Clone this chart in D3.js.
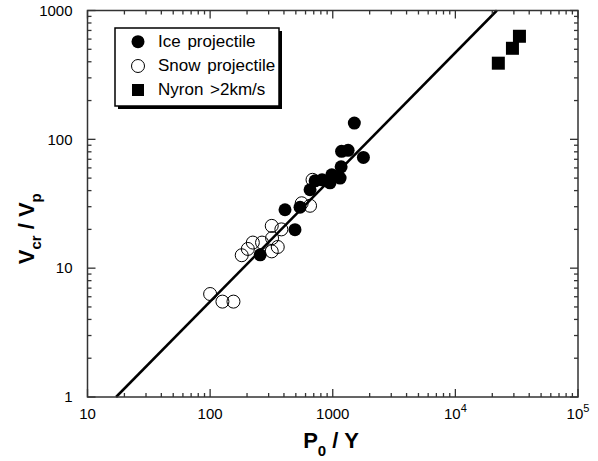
<!DOCTYPE html>
<html>
<head>
<meta charset="utf-8">
<script src="https://cdn.jsdelivr.net/npm/d3@7"></script>
<style>
  html, body { margin: 0; padding: 0; background: #fff; }
  svg { display: block; font-family: "Liberation Sans", Arial, Helvetica, sans-serif; }
</style>
</head>
<body>
<svg id="chart" width="598" height="461"></svg>
<script>
// Ice projectile impacts: [P0/Y, Vcr/Vp]
const iceX = [256, 408, 541, 492, 653, 718, 818, 982, 1148, 950, 1170, 1180, 1334, 1778, 1500];
const iceY = [12.7, 28.4, 29.7, 19.9, 40.6, 47.6, 48.5, 53.1, 50.0, 46.0, 61.2, 80.7, 82.2, 72.4, 133.7];

// Snow projectile impacts
const snowX = [100, 126, 155, 181, 203, 223, 265, 318, 318, 320, 356, 381, 558, 653, 684];
const snowY = [6.3, 5.5, 5.5, 12.6, 14.1, 15.8, 15.8, 13.5, 21.3, 17.1, 14.6, 20.0, 31.9, 30.5, 48.5];

// Nylon projectiles faster than 2 km/s
const nyronX = [22400, 29200, 33300];
const nyronY = [390, 509, 631];

// Power-law fit, drawn between its two end points
const fitX = [17.1, 21800];
const fitY = [1, 1000];

// Axis decades and their labels (base, exponent)
const xTickValues = [10, 100, 1000, 1e4, 1e5];
const xTickLabels = [["10", ""], ["100", ""], ["1000", ""], ["10", "4"], ["10", "5"]];
const yTickValues = [1, 10, 100, 1000];
const yTickLabels = ["1", "10", "100", "1000"];

const legendLabels = ["Ice projectile", "Snow projectile", "Nyron >2km/s"];

const svg = d3.select("#chart");
const pL = 87.5, pR = 578, pT = 10.5, pB = 397;

const x = d3.scaleLog().domain([10, 1e5]).range([pL, pR]);
const y = d3.scaleLog().domain([1, 1000]).range([pB, pT]);

// Fit line
const fit = fitX.map((v, i) => [v, fitY[i]]);
svg.append("path")
  .datum(fit)
  .attr("d", d3.line().x(d => x(d[0])).y(d => y(d[1])))
  .attr("fill", "none")
  .attr("stroke", "#000")
  .attr("stroke-width", 2.5);

// Frame with inward ticks on all four sides
const axisColor = "#333";
const isMajor = v => Math.abs(Math.log10(v) - Math.round(Math.log10(v))) < 1e-9;
const xMinor = x.ticks();
const yMinor = y.ticks();

function drawTicks(g, values, scale, orient) {
  values.forEach(v => {
    const len = isMajor(v) ? 8 : 4;
    const p = scale(v);
    let x1, y1, x2, y2;
    if (orient === "bottom") { x1 = x2 = p; y1 = pB; y2 = pB - len; }
    if (orient === "top") { x1 = x2 = p; y1 = pT; y2 = pT + len; }
    if (orient === "left") { y1 = y2 = p; x1 = pL; x2 = pL + len; }
    if (orient === "right") { y1 = y2 = p; x1 = pR; x2 = pR - len; }
    g.append("line").attr("x1", x1).attr("y1", y1).attr("x2", x2).attr("y2", y2)
      .attr("stroke", axisColor).attr("stroke-width", 1.3);
  });
}
const frame = svg.append("g");
frame.append("rect")
  .attr("x", pL).attr("y", pT)
  .attr("width", pR - pL).attr("height", pB - pT)
  .attr("fill", "none").attr("stroke", axisColor).attr("stroke-width", 1.5);
drawTicks(frame, xMinor, x, "bottom");
drawTicks(frame, xMinor, x, "top");
drawTicks(frame, yMinor, y, "left");
drawTicks(frame, yMinor, y, "right");

// X tick labels
const xl = svg.append("g").attr("font-size", 15).attr("fill", "#000");
xTickValues.forEach((v, i) => {
  const t = xl.append("text")
    .attr("x", x(v)).attr("y", pB + 22)
    .attr("text-anchor", "middle");
  t.append("tspan").text(xTickLabels[i][0]);
  if (xTickLabels[i][1]) {
    t.append("tspan").attr("dy", -7).attr("font-size", 11).text(xTickLabels[i][1]);
  }
});

// Y tick labels
const yl = svg.append("g").attr("font-size", 15).attr("fill", "#000");
yTickValues.forEach((v, i) => {
  yl.append("text")
    .attr("x", pL - 15).attr("y", y(v))
    .attr("dy", "0.35em")
    .attr("text-anchor", "end")
    .text(yTickLabels[i]);
});

// Axis titles
const xt = svg.append("text")
  .attr("x", 331).attr("y", 448)
  .attr("text-anchor", "middle")
  .attr("font-size", 22).attr("font-weight", "bold");
xt.append("tspan").text("P");
xt.append("tspan").attr("dy", 8).attr("font-size", 15).text("0");
xt.append("tspan").attr("dy", -8).text(" / Y");

const yt = svg.append("text")
  .attr("transform", `translate(34,${(pT + pB) / 2 + 25}) rotate(-90)`)
  .attr("text-anchor", "middle")
  .attr("font-size", 22).attr("font-weight", "bold");
yt.append("tspan").text("V");
yt.append("tspan").attr("dy", 7).attr("font-size", 15).text("cr");
yt.append("tspan").attr("dy", -7).text(" / V");
yt.append("tspan").attr("dy", 7).attr("font-size", 15).text("p");

// Data marks
const r = 6.5;
svg.append("g").selectAll("circle")
  .data(snowX.map((v, i) => [v, snowY[i]]))
  .join("circle")
  .attr("cx", d => x(d[0])).attr("cy", d => y(d[1])).attr("r", r)
  .attr("fill", "none").attr("stroke", "#000").attr("stroke-width", 1);

svg.append("g").selectAll("circle")
  .data(iceX.map((v, i) => [v, iceY[i]]))
  .join("circle")
  .attr("cx", d => x(d[0])).attr("cy", d => y(d[1])).attr("r", r)
  .attr("fill", "#000");

const sq = 13;
svg.append("g").selectAll("rect")
  .data(nyronX.map((v, i) => [v, nyronY[i]]))
  .join("rect")
  .attr("x", d => x(d[0]) - sq / 2).attr("y", d => y(d[1]) - sq / 2)
  .attr("width", sq).attr("height", sq)
  .attr("fill", "#000");

// Legend with drop shadow
const lg = svg.append("g");
const lx = 115, ly = 28, lw = 164, lh = 78;
lg.append("rect").attr("x", lx + 3).attr("y", ly + 3).attr("width", lw).attr("height", lh)
  .attr("fill", "#000");
lg.append("rect").attr("x", lx).attr("y", ly).attr("width", lw).attr("height", lh)
  .attr("fill", "#fff").attr("stroke", "#000").attr("stroke-width", 1.5);
const rowY = [46.7, 71, 95];
legendLabels.forEach((label, i) => {
  const cy = rowY[i] - 5;
  if (i === 0) lg.append("circle").attr("cx", 138).attr("cy", cy).attr("r", r).attr("fill", "#000");
  if (i === 1) lg.append("circle").attr("cx", 138).attr("cy", cy).attr("r", r)
    .attr("fill", "none").attr("stroke", "#000").attr("stroke-width", 1);
  if (i === 2) lg.append("rect").attr("x", 138 - 6).attr("y", cy - 6).attr("width", 12).attr("height", 12)
    .attr("fill", "#000");
  lg.append("text").attr("x", 158).attr("y", rowY[i])
    .attr("font-size", 17).attr("word-spacing", 2).text(label);
});
</script>
</body>
</html>
